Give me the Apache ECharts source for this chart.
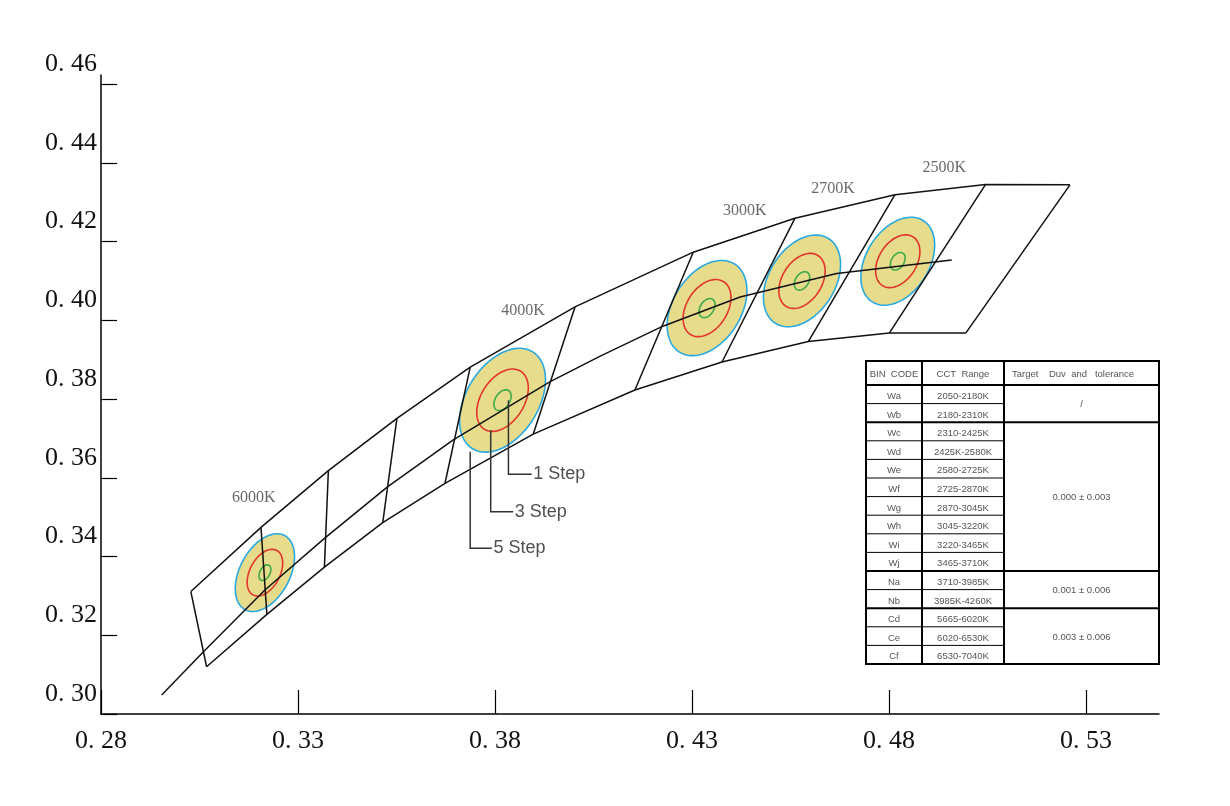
<!DOCTYPE html>
<html><head><meta charset="utf-8">
<script src="https://cdn.jsdelivr.net/npm/echarts@6/dist/echarts.min.js"></script>
<style>html,body{margin:0;padding:0;background:#fff}#c{width:1230px;height:806px}</style>
</head><body><div id="c"></div>
<script>
// ---- data ----
const xTicks = [0.28, 0.33, 0.38, 0.43, 0.48, 0.53];
const yTicks = [0.30, 0.32, 0.34, 0.36, 0.38, 0.40, 0.42, 0.44, 0.46];
const topBoundary = [[0.3028,0.3311],[0.3206,0.3474],[0.3377,0.3618],[0.3551,0.3751],[0.3737,0.3881],[0.4003,0.4034],[0.4303,0.4173],[0.4561,0.4259],[0.4815,0.4319],[0.5045,0.4345],[0.5259,0.4344]];
const bottomBoundary = [[0.3068,0.3120],[0.3221,0.3253],[0.3367,0.3373],[0.3515,0.3486],[0.3673,0.3586],[0.3897,0.3711],[0.4155,0.3823],[0.4376,0.3894],[0.4595,0.3946],[0.4801,0.3968],[0.4995,0.3968]];
const locus = [[0.2954,0.3048],[0.3060,0.3158],[0.3216,0.3315],[0.3367,0.3446],[0.3527,0.3577],[0.3694,0.3696],[0.3940,0.3844],[0.4067,0.3909],[0.4226,0.3985],[0.4422,0.4059],[0.4667,0.4119],[0.4959,0.4153]];
const cctLabels = ['6000K','4000K','3000K','2700K','2500K'];
const cctLabelPos = [[0.3188,0.3550],[0.3871,0.4025],[0.4434,0.4277],[0.4658,0.4333],[0.4940,0.4388]];
const ellipseCenters = [[0.3216,0.3359],[0.3819,0.3797],[0.4338,0.4031],[0.4579,0.4100],[0.4822,0.4150]];
// 5-step ellipse: semi-major, semi-minor (chromaticity units), tilt (deg)
const ellipseAxes = [[0.01067,0.00635,62],[0.01447,0.00914,58],[0.01320,0.00863,58],[0.01270,0.00838,58],[0.01219,0.00800,58]];
const stepScales = [5, 3, 1];
const stepLabels = ['1 Step','3 Step','5 Step'];
const stepLeaders = [
  [[0.3834,0.3797],[0.3834,0.3609],[0.3893,0.3609]],
  [[0.3789,0.3721],[0.3789,0.3514],[0.3846,0.3514]],
  [[0.3737,0.3666],[0.3737,0.3421],[0.3792,0.3421]]
];
const tableHeader = ['BIN  CODE','CCT  Range','Target    Duv  and   tolerance'];
const binCodes = ['Wa','Wb','Wc','Wd','We','Wf','Wg','Wh','Wi','Wj','Na','Nb','Cd','Ce','Cf'];
const cctRanges = ['2050-2180K','2180-2310K','2310-2425K','2425K-2580K','2580-2725K','2725-2870K','2870-3045K','3045-3220K','3220-3465K','3465-3710K','3710-3985K','3985K-4260K','5665-6020K','6020-6530K','6530-7040K'];
const duvTargets = ['/','0.000 ± 0.003','0.001 ± 0.006','0.003 ± 0.006'];
const duvRowCounts = [2, 8, 2, 3];

// ---- styles ----
const C_FILL = '#e6dc8c', C_BLUE = '#2aa9e0', C_RED = '#e3342c', C_GREEN = '#3daa48';
const LINE = '#111';

function ellipsePts(api, cx, cy, a, b, deg, k) {
  const c = api.coord([cx, cy]);
  const s = api.size([1, 1]);
  const th = deg * Math.PI / 180;
  const pts = [];
  for (let i = 0; i < 90; i++) {
    const t = i / 90 * Math.PI * 2;
    const u = a * k * Math.cos(t), v = b * k * Math.sin(t);
    const dx = u * Math.cos(th) - v * Math.sin(th);
    const dy = u * Math.sin(th) + v * Math.cos(th);
    pts.push([c[0] + dx * s[0], c[1] - dy * s[1]]);
  }
  return pts;
}

const ellipseData = ellipseCenters.map((c, i) => [c[0], c[1], ellipseAxes[i][0], ellipseAxes[i][1], ellipseAxes[i][2]]);

// ---- table graphics ----
const T = { x0: 866, x1: 922, x2: 1004, x3: 1159, top: 361, head: 385, rowH: 18.6 };
const tg = [];
const bottomY = T.head + T.rowH * binCodes.length;
const txt = (x, y, s, align) => ({ type: 'text', x: x, y: y, style: { text: s, fill: '#555', font: '9.5px "Liberation Sans", Arial, sans-serif', align: align || 'center', verticalAlign: 'middle' }, z: 10 });
const ln = (x1, y1, x2, y2, w) => ({ type: 'line', shape: { x1, y1, x2, y2 }, style: { stroke: '#000', lineWidth: w }, z: 10 });
tg.push({ type: 'rect', shape: { x: T.x0, y: T.top, width: T.x3 - T.x0, height: bottomY - T.top }, style: { fill: '#fff', stroke: '#000', lineWidth: 2 }, z: 9 });
tg.push(ln(T.x1, T.top, T.x1, bottomY, 2));
tg.push(ln(T.x2, T.top, T.x2, bottomY, 2));
tg.push(ln(T.x0, T.head, T.x3, T.head, 2));
tg.push(txt((T.x0 + T.x1) / 2, (T.top + T.head) / 2 + 1, tableHeader[0]));
tg.push(txt((T.x1 + T.x2) / 2, (T.top + T.head) / 2 + 1, tableHeader[1]));
tg.push(txt(1073, (T.top + T.head) / 2 + 1, tableHeader[2]));
const groupEnds = [];
let acc = 0;
duvRowCounts.forEach(n => { acc += n; groupEnds.push(acc); });
for (let k = 1; k < binCodes.length; k++) {
  const y = T.head + k * T.rowH;
  if (groupEnds.indexOf(k) >= 0) tg.push(ln(T.x0, y, T.x3, y, 2));
  else tg.push(ln(T.x0, y, T.x2, y, 1));
}
binCodes.forEach((b, i) => {
  const y = T.head + (i + 0.5) * T.rowH + 2;
  tg.push(txt((T.x0 + T.x1) / 2, y, b));
  tg.push(txt((T.x1 + T.x2) / 2, y, cctRanges[i]));
});
let start = 0;
duvTargets.forEach((d, g) => {
  const n = duvRowCounts[g];
  const y = T.head + (start + n / 2) * T.rowH + 1;
  tg.push(txt((T.x2 + T.x3) / 2, y, d));
  start += n;
});

const fmt = v => '0. ' + String(Math.round(v * 100)).padStart(2, '0');

const chart = echarts.init(document.getElementById('c'), null, { renderer: 'canvas' });
chart.setOption({
  animation: false,
  backgroundColor: '#fff',
  grid: { left: 101, right: 71, top: 75, bottom: 92, containLabel: false, outerBoundsMode: 'none' },
  xAxis: {
    type: 'value', min: xTicks[0], max: 0.5485, interval: 0.05,
    axisLine: { show: true, onZero: false, lineStyle: { color: '#000', width: 1.5 } },
    axisTick: { show: true, inside: true, length: 24, customValues: xTicks, lineStyle: { color: '#000', width: 1.2 } },
    axisLabel: { margin: 14, customValues: xTicks, fontFamily: '"Liberation Serif", serif', fontSize: 26, color: '#111', formatter: fmt },
    splitLine: { show: false }
  },
  yAxis: {
    type: 'value', min: yTicks[0], max: 0.4623, interval: 0.02,
    axisLine: { show: true, onZero: false, lineStyle: { color: '#000', width: 1.5 } },
    axisTick: { show: true, inside: true, length: 16, customValues: yTicks, lineStyle: { color: '#000', width: 1.2 } },
    axisLabel: { margin: 4, customValues: yTicks, fontFamily: '"Liberation Serif", serif', fontSize: 26, color: '#111', formatter: fmt, verticalAlign: 'bottom', lineHeight: 40 },
    splitLine: { show: false }
  },
  graphic: tg,
  series: [
    {
      type: 'custom', z: 1, data: ellipseData, encode: { x: 0, y: 1 },
      renderItem: (params, api) => {
        const cx = api.value(0), cy = api.value(1), a = api.value(2), b = api.value(3), d = api.value(4);
        const cols = [C_BLUE, C_RED, C_GREEN];
        const children = [{ type: 'polygon', shape: { points: ellipsePts(api, cx, cy, a, b, d, 1) }, style: { fill: C_FILL, stroke: null } }];
        stepScales.forEach((s, j) => {
          children.push({ type: 'polygon', shape: { points: ellipsePts(api, cx, cy, a, b, d, s / 5) }, style: { fill: null, stroke: cols[j], lineWidth: 1.6 } });
        });
        return { type: 'group', children };
      }
    },
    { type: 'line', z: 3, data: topBoundary, symbol: 'none', lineStyle: { color: LINE, width: 1.5 } },
    { type: 'line', z: 3, data: bottomBoundary, symbol: 'none', lineStyle: { color: LINE, width: 1.5 } },
    { type: 'line', z: 3, data: locus, symbol: 'none', lineStyle: { color: LINE, width: 1.5 } },
    {
      type: 'lines', coordinateSystem: 'cartesian2d', z: 3,
      data: topBoundary.map((t, i) => ({ coords: [t, bottomBoundary[i]] })),
      lineStyle: { color: LINE, width: 1.5, opacity: 1 }
    },
    {
      type: 'lines', coordinateSystem: 'cartesian2d', polyline: true, z: 4,
      data: stepLeaders.map(p => ({ coords: p })),
      lineStyle: { color: '#333', width: 1.5, opacity: 1 }
    },
    {
      type: 'scatter', z: 5, data: cctLabelPos, symbolSize: 1, itemStyle: { color: 'rgba(0,0,0,0)' },
      label: { show: true, position: 'inside', formatter: p => cctLabels[p.dataIndex], fontFamily: '"Liberation Serif", serif', fontSize: 16, color: '#444' }
    },
    {
      type: 'scatter', z: 5, data: stepLeaders.map(p => p[2]), symbolSize: 1, itemStyle: { color: 'rgba(0,0,0,0)' },
      label: { show: true, position: 'right', distance: 1, formatter: p => stepLabels[p.dataIndex], fontFamily: '"Liberation Sans", Arial, sans-serif', fontSize: 18, color: '#222' }
    }
  ]
});
</script>
</body></html>
